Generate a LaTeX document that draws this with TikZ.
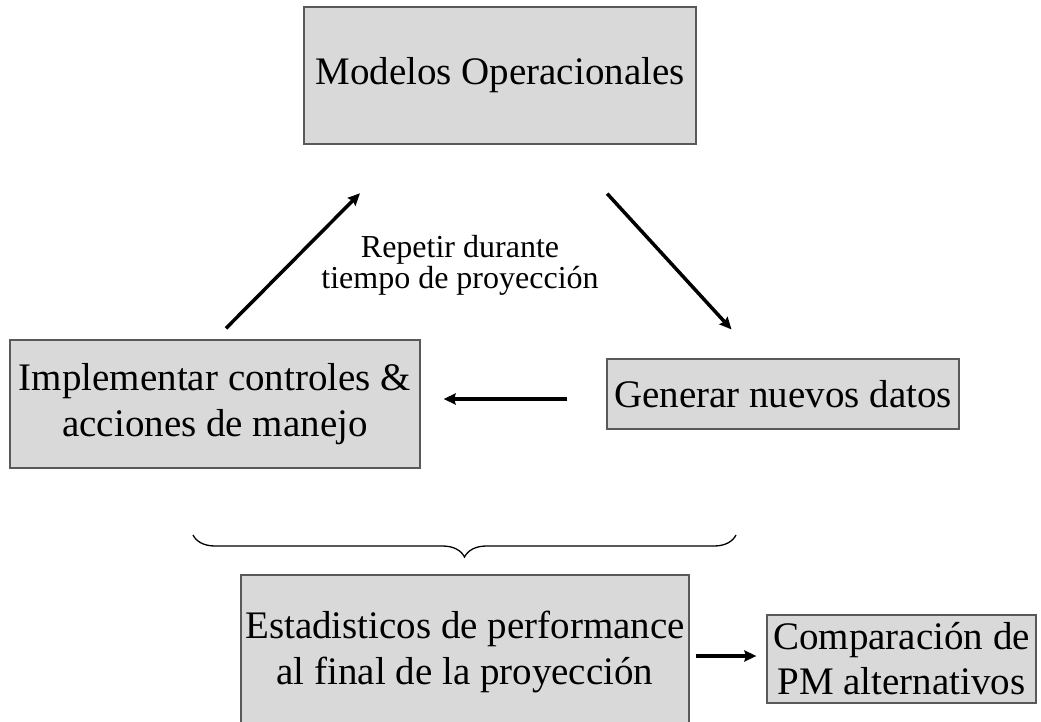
\documentclass[tikz,border=0pt]{standalone}
\usepackage{fontspec}
\setmainfont{Liberation Serif}
\usetikzlibrary{arrows.meta,decorations.pathreplacing}

\begin{document}
\begin{tikzpicture}[x=1pt,y=-1pt,>={Stealth[length=12pt,width=11pt,inset=1.5pt]},
  caja/.style={draw=black!65,fill=black!15,line width=1.2pt,inner sep=0pt,align=center,
    font=\fontsize{39}{46}\selectfont},
  flecha/.style={->,line width=3.5pt}]
  \useasboundingbox (0,0) rectangle (1041,722);
  \clip (0,0) rectangle (1041,722);
  % cajas del ciclo
  \node[caja,minimum width=392pt,minimum height=137pt] (modelos) at (500,75.5) {Modelos Operacionales};
  \node[caja,minimum width=352pt,minimum height=70pt] (generar) at (783,394) {Generar nuevos datos};
  \node[caja,minimum width=410pt,minimum height=128pt] (implementar) at (215,404) {Implementar controles \&\\acciones de manejo};
  \node[caja,minimum width=448pt,minimum height=154pt] (estadisticos) at (465,652) {Estadisticos de performance\\al final de la proyección};
  \node[caja,minimum width=269pt,minimum height=88pt,font=\fontsize{39}{45}\selectfont] (comparacion) at (901.5,659) {Comparación de\\PM alternativos};
  \node[align=center,font=\fontsize{32}{31}\selectfont] (repetir) at (460,265) {Repetir durante\\tiempo de proyección};
  % flechas
  \draw[flecha,shorten <=15.6pt,shorten >=68.6pt] (implementar.north) -- (modelos.217.7);
  \draw[flecha,shorten <=66.5pt,shorten >=39.3pt] (modelos.312.2) -- (generar.125);
  \draw[flecha,shorten <=39pt,shorten >=23pt] ([yshift=-5pt]generar.west) -- ([yshift=5pt]implementar.east);
  \draw[flecha,shorten <=6pt,shorten >=10pt] ([yshift=-4pt]estadisticos.east) -- ([yshift=3pt]comparacion.west);
  % llave
  \draw[line width=1.3pt,decorate,decoration={brace,amplitude=22pt}] (736,535) -- (193,535);
\end{tikzpicture}
\end{document}
